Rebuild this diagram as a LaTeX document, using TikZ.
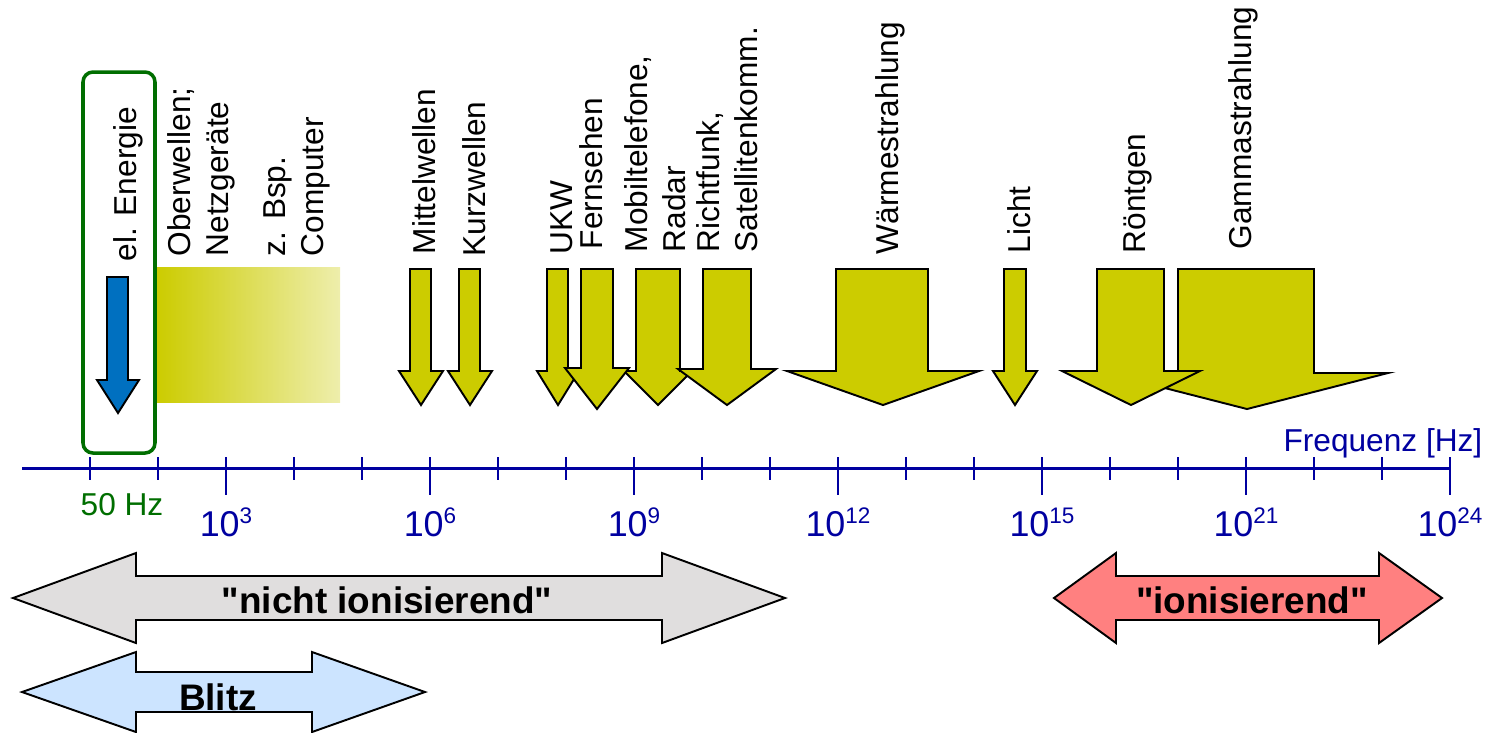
\documentclass[tikz,border=0pt]{standalone}
\usepackage{fontspec}
\setmainfont{Liberation Sans}
\usepackage{tikz}

\definecolor{yel}{RGB}{204,204,0}
\definecolor{paleyel}{RGB}{238,238,172}
\definecolor{elblue}{RGB}{0,112,192}
\definecolor{axisblue}{RGB}{0,0,160}
\definecolor{boxgreen}{RGB}{0,110,0}
\definecolor{greyband}{RGB}{224,222,222}
\definecolor{blitzblue}{RGB}{204,228,255}
\definecolor{ionred}{RGB}{255,128,128}

\tikzstyle{yarrow} = [draw=black, fill=yel, line width=0.55pt, line join=miter]
\tikzstyle{band} = [draw=black, line width=0.55pt]
\tikzstyle{vlabel} = [rotate=90, anchor=north west, inner sep=0pt, align=left,
    font=\fontsize{9}{10.8}\selectfont]
\tikzstyle{axislabel} = [anchor=base, inner sep=0pt, text=axisblue,
    font=\fontsize{10.2}{12}\selectfont]
\tikzstyle{bandtext} = [anchor=base, inner sep=0pt, font=\bfseries\fontsize{10.5}{12}\selectfont]
\tikzstyle{tick} = [draw=axisblue, line width=0.7pt]

\newcommand{\yelarrow}[6]{\draw[yarrow] (#1,269) -- (#2,269) -- (#2,#5) -- (#4,#5)
    -- ({(#3+#4)/2},#6) -- (#3,#5) -- (#1,#5) -- cycle;}
\newcommand{\tenpow}[1]{10\raisebox{0.36em}{\fontsize{6.4}{7}\selectfont #1}}
\newcommand{\dq}{\XeTeXglyph\XeTeXcharglyph"22\relax}

\begin{document}
\begin{tikzpicture}[x=0.01cm, y=-0.01cm]
                \useasboundingbox (0,0) rectangle (1491,732);
                \shade[left color=yel, right color=paleyel] (157,267) rectangle (340,402);
                \draw[boxgreen, line width=1pt, rounded corners=1mm] (83,72) rectangle (155,453);
                \draw[draw=black, fill=elblue, line width=0.55pt] (107,277) -- (128,277) -- (128,380)
                    -- (139,380) -- (118,413) -- (97,380) -- (107,380) -- cycle;
                \yelarrow{410}{431}{399}{443}{371}{405}
                \yelarrow{459}{480}{448}{492}{371}{405}
                \yelarrow{547}{568}{537}{579}{371}{405}
                \yelarrow{636}{680}{624}{692}{371}{405}
                \yelarrow{581}{613}{565}{629}{368}{409}
                \yelarrow{703}{751}{678}{776}{369}{405}
                \yelarrow{836}{928}{787}{979}{371}{405}
                \yelarrow{1004}{1026}{993}{1037}{371}{405}
                \yelarrow{1178}{1314}{1106}{1388}{373}{409}
                \yelarrow{1097}{1164}{1062}{1200}{371}{405}
                \node[vlabel] (elenergie) at (113,262) {el. Energie};
                \node[vlabel] (oberwellen) at (167,257) {Oberwellen;\\Netzgeräte};
                \node[vlabel] (computer) at (263,257) {z. Bsp.\\Computer};
                \node[vlabel] (mittelwellen) at (412,255) {Mittelwellen};
                \node[vlabel] (kurzwellen) at (462,257) {Kurzwellen};
                \node[vlabel] (ukw) at (550,255) {UKW};
                \node[vlabel] (fernsehen) at (579,250) {Fernsehen};
                \node[vlabel] (mobilfunk) at (624,253) {Mobiltelefone,\\Radar};
                \node[vlabel] (richtfunk) at (696,253) {Richtfunk,\\Satellitenkomm.};
                \node[vlabel] (waerme) at (875,255) {Wärmestrahlung};
                \node[vlabel] (licht) at (1007,254) {Licht};
                \node[vlabel] (roentgen) at (1123,254) {Röntgen};
                \node[vlabel] (gamma) at (1228,250) {Gammastrahlung};
                \draw[axisblue, line width=0.85pt] (22,468) -- (1450,468);
                \foreach \x in {90,158,294,362,498,566,702,770,906,974,1110,1178,1314,1382}
                    \draw[tick] (\x,457) -- (\x,480);
                \foreach \x in {226,430,634,838,1042,1246,1450}
                    \draw[tick] (\x,457) -- (\x,495);
                \node[axislabel, text=boxgreen, font=\fontsize{9}{11}\selectfont] (hz50) at (122,515) {50 Hz};
                \node[axislabel] (e3) at (226,536) {\tenpow{3}};
                \node[axislabel] (e6) at (430,536) {\tenpow{6}};
                \node[axislabel] (e9) at (634,536) {\tenpow{9}};
                \node[axislabel] (e12) at (838,536) {\tenpow{12}};
                \node[axislabel] (e15) at (1042,536) {\tenpow{15}};
                \node[axislabel] (e21) at (1246,536) {\tenpow{21}};
                \node[axislabel] (e24) at (1450,536) {\tenpow{24}};
                \node[axislabel, anchor=base east, font=\fontsize{9}{11}\selectfont] (freq) at (1483,451) {Frequenz [Hz]};
                \draw[band, fill=greyband] (13,598) -- (136,553) -- (136,576) -- (662,576) -- (662,553)
                    -- (785,598) -- (662,643) -- (662,620) -- (136,620) -- (136,643) -- cycle;
                \node[bandtext] (nichtion) at (387,613) {\dq nicht ionisierend\dq};
                \draw[band, fill=blitzblue] (22,692) -- (136,652) -- (136,672) -- (312,672) -- (312,652)
                    -- (425,692) -- (312,732) -- (312,712) -- (136,712) -- (136,732) -- cycle;
                \node[bandtext] (blitz) at (218,710) {Blitz};
                \draw[band, fill=ionred] (1054,598) -- (1116,553) -- (1116,576) -- (1379,576) -- (1379,553)
                    -- (1442,598) -- (1379,643) -- (1379,620) -- (1116,620) -- (1116,643) -- cycle;
                \node[bandtext] (ion) at (1252,613) {\dq ionisierend\dq};
\end{tikzpicture}
\end{document}
